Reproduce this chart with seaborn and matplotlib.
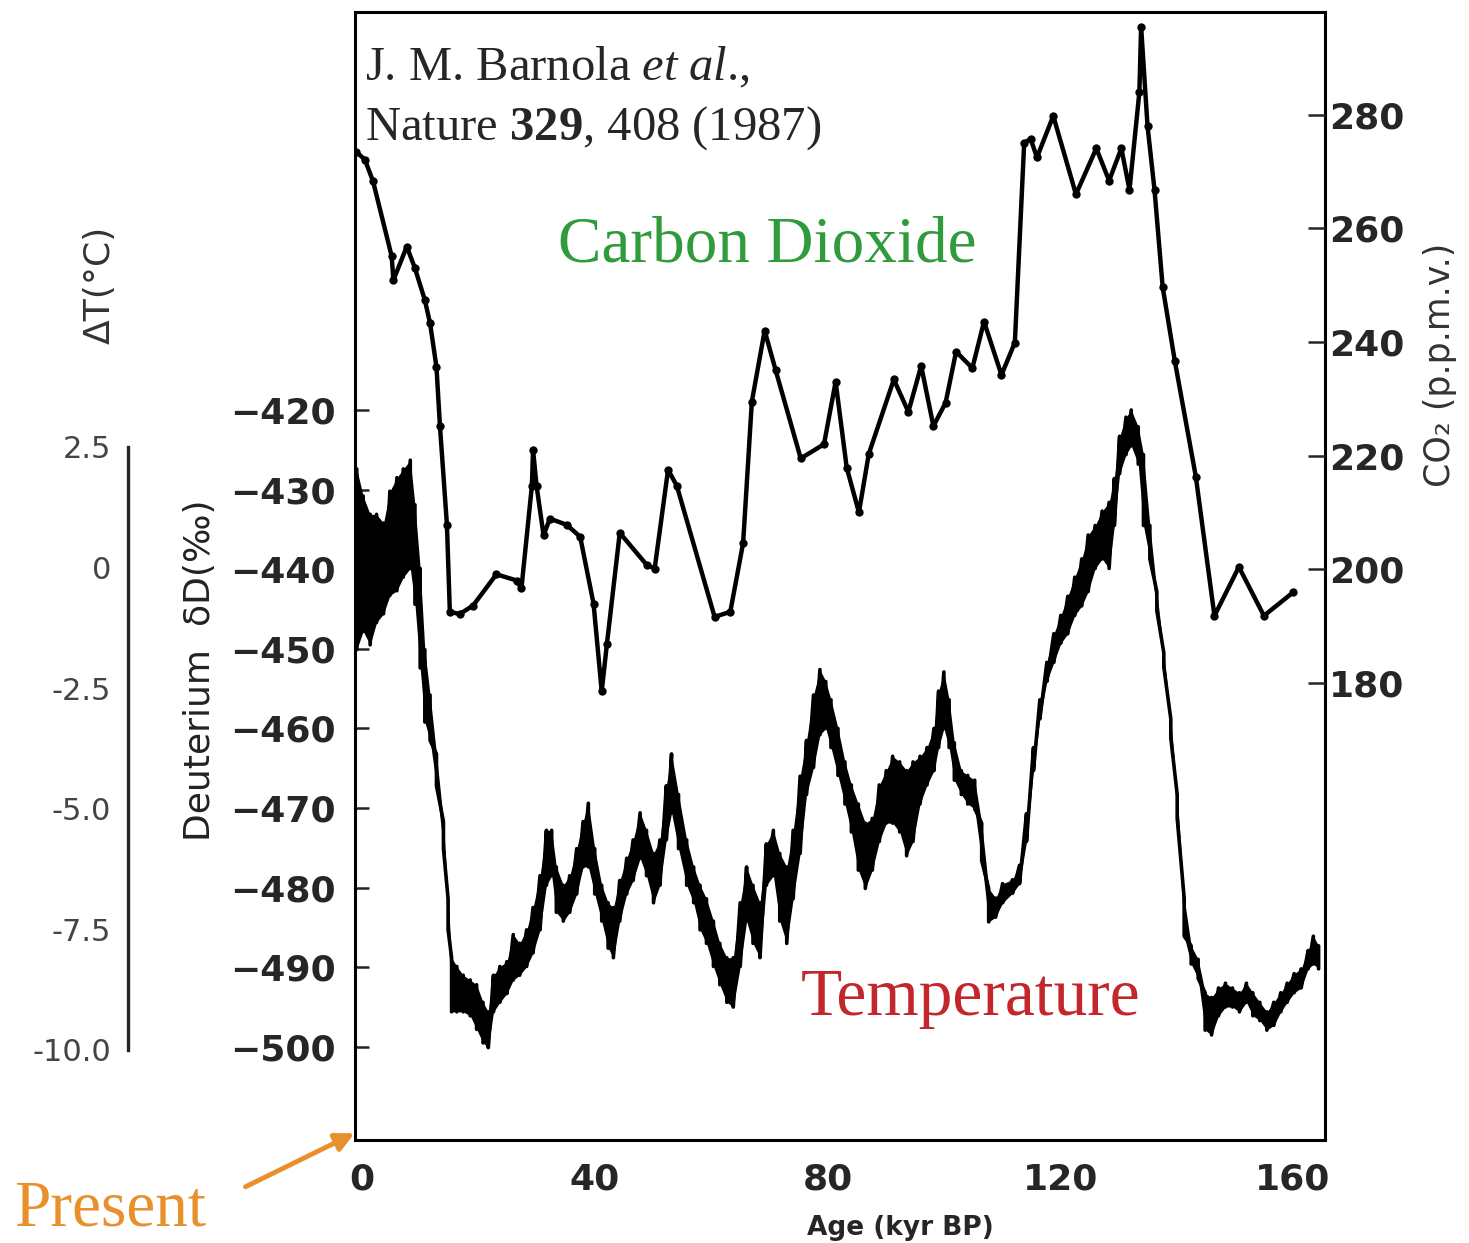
import numpy as np
import pandas as pd
import seaborn as sns
import matplotlib.pyplot as plt

# CO2 record (age kyr BP, ppmv)
co2_age = [-1.0, 0.5, 1.9, 5.1, 5.4, 7.7, 9.1, 10.8, 11.7, 12.8,
           13.4, 14.6, 15.1, 16.8, 19.1, 23.1, 26.6, 27.4, 29.2, 29.4,
           30.0, 31.2, 32.3, 35.2, 37.5, 39.8, 41.2, 42.1, 44.3, 48.9,
           50.3, 52.6, 54.1, 60.6, 63.3, 65.5, 67.0, 69.2, 71.1, 75.4,
           79.4, 81.4, 83.3, 85.4, 87.1, 91.4, 93.9, 96.1, 98.2, 100.3,
           102.1, 104.9, 106.9, 109.9, 112.2, 113.8, 114.9, 116.0, 118.8, 122.7,
           126.2, 128.4, 130.5, 131.9, 133.6, 133.9, 135.0, 136.2, 137.6, 139.7,
           143.3, 146.5, 150.7, 155.0, 160.0]
co2_ppm = [273.5, 272.1, 268.3, 255.1, 250.9, 256.8, 253.0, 247.4, 243.3, 235.6,
           225.2, 207.8, 192.5, 192.1, 193.6, 199.1, 198.0, 196.6, 214.7, 221.0,
           214.7, 206.0, 208.9, 207.8, 205.7, 193.9, 178.5, 186.9, 206.4, 200.8,
           200.1, 217.5, 214.7, 191.6, 192.5, 204.6, 229.5, 242.0, 235.0, 219.5,
           222.0, 233.0, 217.9, 210.0, 220.3, 233.4, 227.7, 235.8, 225.2, 229.3,
           238.3, 235.4, 243.6, 234.2, 239.9, 275.0, 275.8, 272.5, 279.8, 266.0,
           274.1, 268.4, 274.1, 266.8, 284.0, 295.5, 278.0, 266.8, 249.7, 236.6,
           216.3, 191.8, 200.4, 191.8, 195.9]

# Deuterium trace: upper and lower edge of the noisy band (permil)
dd_age = [-0.9, 0.2, 1.4, 2.5, 3.7, 4.8, 6.0, 7.1, 8.3, 9.1,
          10.0, 10.8, 11.7, 12.8, 14.0, 14.8, 15.4, 16.3, 17.4, 18.6,
          19.7, 20.8, 21.7, 22.6, 23.7, 24.9, 26.0, 27.1, 28.3, 29.4,
          30.6, 31.7, 32.6, 33.4, 34.6, 35.7, 36.9, 38.0, 38.9, 40.0,
          41.2, 42.3, 43.2, 44.3, 45.5, 46.6, 47.8, 48.9, 50.1, 51.2,
          52.3, 53.2, 54.4, 55.8, 57.0, 58.1, 59.2, 60.4, 61.5, 62.7,
          63.8, 65.0, 66.1, 67.2, 68.4, 69.5, 70.7, 71.8, 73.0, 74.1,
          75.3, 76.4, 77.6, 78.7, 79.7, 80.6, 81.8, 83.0, 84.1, 85.3,
          86.5, 87.7, 88.9, 90.1, 91.2, 92.4, 93.6, 94.7, 95.9, 97.1,
          98.3, 99.1, 100.0, 100.9, 101.8, 103.0, 104.1, 105.3, 106.5, 107.7,
          108.9, 110.1, 111.8, 113.0, 114.2, 115.4, 116.5, 117.7, 118.9, 120.1,
          121.3, 122.5, 123.7, 124.8, 126.0, 127.2, 128.4, 129.3, 130.2, 131.3,
          132.2, 133.4, 134.3, 135.4, 136.6, 137.8, 139.0, 140.1, 141.3, 142.5,
          143.7, 144.9, 146.0, 147.2, 148.4, 149.6, 150.8, 152.0, 153.1, 154.3,
          155.5, 156.7, 157.9, 159.0, 160.2, 161.4, 162.6, 163.5, 164.4]
dd_hi = [-427.4, -430.8, -433.1, -433.1, -434.2, -430.2, -428.5, -427.4, -426.3, -431.9,
         -439.9, -450.1, -455.8, -463.2, -471.7, -481.4, -488.8, -489.9, -491.0, -491.6,
         -492.2, -494.4, -495.6, -491.0, -489.9, -489.3, -485.9, -487.0, -485.3, -482.5,
         -478.5, -472.8, -472.8, -477.4, -479.7, -478.5, -475.1, -471.7, -469.4, -475.1,
         -479.7, -481.9, -482.5, -479.1, -476.3, -474.0, -470.6, -472.8, -475.7, -474.0,
         -467.2, -463.2, -468.3, -474.0, -477.4, -479.7, -481.4, -484.2, -487.0, -488.8,
         -488.8, -481.9, -477.4, -479.7, -481.9, -474.5, -472.8, -475.7, -477.4, -472.8,
         -466.0, -461.5, -455.8, -452.6, -454.1, -456.4, -460.0, -464.2, -467.1, -469.5,
         -471.9, -471.3, -467.1, -465.3, -463.5, -464.2, -465.3, -464.2, -463.5, -462.4,
         -460.0, -455.3, -452.9, -456.4, -461.8, -465.3, -465.9, -466.5, -471.9, -480.1,
         -481.3, -479.5, -479.0, -477.2, -470.7, -462.4, -456.4, -451.7, -448.1, -445.8,
         -443.4, -441.0, -438.7, -435.7, -434.5, -432.7, -431.6, -428.6, -423.3, -420.9,
         -420.0, -422.1, -425.6, -434.5, -442.8, -450.5, -458.8, -468.3, -481.3, -487.3,
         -489.0, -493.2, -493.8, -492.6, -492.0, -492.6, -493.2, -492.0, -493.2, -494.4,
         -495.6, -494.4, -493.2, -492.0, -490.8, -490.2, -487.9, -486.1, -487.3]
dd_lo = [-450.1, -447.8, -449.5, -446.7, -445.6, -443.3, -442.7, -441.0, -439.9, -444.4,
         -452.4, -459.2, -461.5, -467.2, -475.1, -485.3, -495.6, -495.6, -495.6, -496.1,
         -497.8, -499.5, -500.1, -495.6, -494.4, -493.3, -491.6, -491.0, -489.9, -488.2,
         -485.3, -479.7, -478.5, -483.1, -484.2, -483.1, -480.8, -477.4, -477.4, -480.8,
         -484.2, -487.6, -488.8, -484.2, -480.8, -479.1, -476.3, -478.5, -481.9, -479.7,
         -474.0, -470.6, -475.1, -479.7, -481.9, -485.3, -487.0, -489.9, -492.2, -494.4,
         -495.0, -489.9, -484.2, -487.0, -488.8, -479.7, -478.5, -484.2, -487.0, -481.4,
         -475.7, -468.3, -464.9, -460.8, -460.0, -462.4, -465.9, -469.5, -473.0, -477.8,
         -480.1, -477.8, -474.2, -471.9, -471.9, -473.0, -476.0, -474.2, -469.5, -467.1,
         -465.3, -462.4, -460.0, -462.4, -466.5, -468.3, -469.5, -470.1, -476.6, -484.3,
         -483.7, -481.9, -480.7, -479.5, -474.2, -465.3, -458.8, -454.1, -451.7, -449.3,
         -448.1, -445.8, -444.6, -442.8, -439.9, -438.7, -439.9, -434.5, -428.0, -425.6,
         -424.5, -426.8, -434.5, -438.7, -445.2, -452.3, -461.2, -471.3, -486.1, -489.6,
         -491.4, -497.9, -498.5, -496.1, -495.0, -495.0, -495.6, -494.4, -496.1, -496.7,
         -497.9, -497.3, -495.6, -494.4, -493.2, -492.6, -490.2, -489.6, -490.2]

age_ticks = [0, 20, 40, 60, 80, 100, 120, 140, 160]
age_labels = ["0", "", "40", "", "80", "", "120", "", "160"]
dd_ticks = [-420, -430, -440, -450, -460, -470, -480, -490, -500]
co2_ticks = [180, 200, 220, 240, 260, 280]
dt_ticks = [2.5, 0, -2.5, -5.0, -7.5, -10.0]
dt_labels = ["2.5", "0", "-2.5", "-5.0", "-7.5", "-10.0"]

assert len(co2_age) == len(co2_ppm)
assert len(dd_age) == len(dd_hi) == len(dd_lo)

sns.set_style("white")
plt.rcParams['font.family'] = ['DejaVu Sans Condensed', 'DejaVu Sans']
plt.rcParams['mathtext.fontset'] = 'custom'
plt.rcParams['mathtext.rm'] = 'Liberation Serif'
plt.rcParams['mathtext.it'] = 'Liberation Serif:italic'
plt.rcParams['mathtext.bf'] = 'Liberation Serif:bold'

W, H = 1469, 1243
fig = plt.figure(figsize=(W / 100, H / 100), dpi=100)


def fx(px):
    return px / W


def fy(py):
    return 1 - py / H


# main axes (deuterium scale on the left)
ax = fig.add_axes([fx(355), fy(1140), fx(1325) - fx(355), fy(12) - fy(1140)])

# noisy deuterium band: solid core plus a sawtooth between the two edges
ax.fill_between(dd_age, dd_hi, dd_lo, color="black", lw=0)
dd = pd.DataFrame({"age": np.repeat(dd_age, 2),
                   "dD": np.column_stack([dd_hi, dd_lo]).ravel()})
sns.lineplot(data=dd, x="age", y="dD", sort=False, estimator=None,
             color="black", lw=2.6, ax=ax)

ax.set_xlim(-1.2, 165.5)
ax.set_ylim(-511.7, -370.0)
ax.set_xlabel("")
ax.set_ylabel("")
ax.set_xticks(age_ticks)
ax.set_xticklabels(age_labels, fontweight="bold")
ax.set_yticks(dd_ticks)
ax.set_yticklabels([str(t).replace("-", "\u2212") for t in dd_ticks], fontweight="bold")
ax.tick_params(axis="x", direction="in", length=12, width=1.6, pad=16, labelsize=26)
ax.tick_params(axis="y", direction="in", length=10, width=1.8, pad=14, labelsize=26)
for s in ax.spines.values():
    s.set_linewidth(2.2)
    s.set_color("black")

# CO2 on a twin axis (right)
ax2 = ax.twinx()
sns.lineplot(x=co2_age, y=co2_ppm, sort=False, estimator=None, color="black",
             lw=3.2, marker="o", markersize=6, markeredgewidth=0, ax=ax2)
ax2.set_ylim(99.5, 298.1)
ax2.set_xlim(-1.2, 165.5)
ax2.set_yticks(co2_ticks)
ax2.set_yticklabels([str(t) for t in co2_ticks], fontweight="bold")
ax2.tick_params(axis="y", direction="in", length=12, width=1.8, pad=3, labelsize=26)
for s in ax2.spines.values():
    s.set_visible(False)

# temperature scale on the far left
axt = fig.add_axes([fx(128), fy(1140), 0.0005, fy(12) - fy(1140)])
axt.set_ylim(-11.87, 11.52)
axt.set_xticks([])
axt.set_yticks(dt_ticks)
axt.set_yticklabels(dt_labels)
axt.tick_params(axis="y", direction="in", length=10, width=1.8, pad=12,
                labelsize=22, labelcolor="#444444")
for s in ["top", "right", "bottom"]:
    axt.spines[s].set_visible(False)
axt.spines["left"].set_bounds(-10, 2.5)
axt.spines["left"].set_linewidth(2.4)
axt.patch.set_alpha(0)

# axis titles
fig.text(fx(100), fy(285), "ΔT(°C)", rotation=90, ha="center", va="center",
         fontsize=26, color="#333333")
fig.text(fx(200), fy(670), "Deuterium  δD(‰)", rotation=90, ha="center", va="center",
         fontsize=26, color="#222222")
fig.text(fx(1440), fy(365), "CO₂ (p.p.m.v.)", rotation=90, ha="center", va="center",
         fontsize=25, color="#333333")
fig.text(fx(900), fy(1241), "Age (kyr BP)", ha="center", va="bottom", fontsize=19,
         fontweight="bold")

# citation and series labels
serif = "Liberation Serif"
fig.text(fx(365), fy(80), r"J. M. Barnola $\mathit{et\ al}$.,", family=serif,
         fontsize=35, va="baseline")
fig.text(fx(365), fy(140), r"Nature $\mathbf{329}$, 408 (1987)", family=serif,
         fontsize=35, va="baseline")
fig.text(fx(767), fy(262), "Carbon Dioxide", family=serif, fontsize=47,
         color="#2f9b3a", ha="center", va="baseline")
fig.text(fx(971), fy(1015), "Temperature", family=serif, fontsize=48.5,
         color="#c3262b", ha="center", va="baseline")
fig.text(fx(14), fy(1240), "Present", family=serif, fontsize=47,
         color="#e8902c", ha="left", va="bottom")
ax.annotate("", xy=(357, H - 1132), xytext=(243, H - 1188),
            xycoords="figure pixels", textcoords="figure pixels",
            arrowprops=dict(arrowstyle="-|>", color="#e8902c", lw=3.5,
                            mutation_scale=28),
            annotation_clip=False)

fig.savefig("out.png", dpi=100, facecolor="white")
